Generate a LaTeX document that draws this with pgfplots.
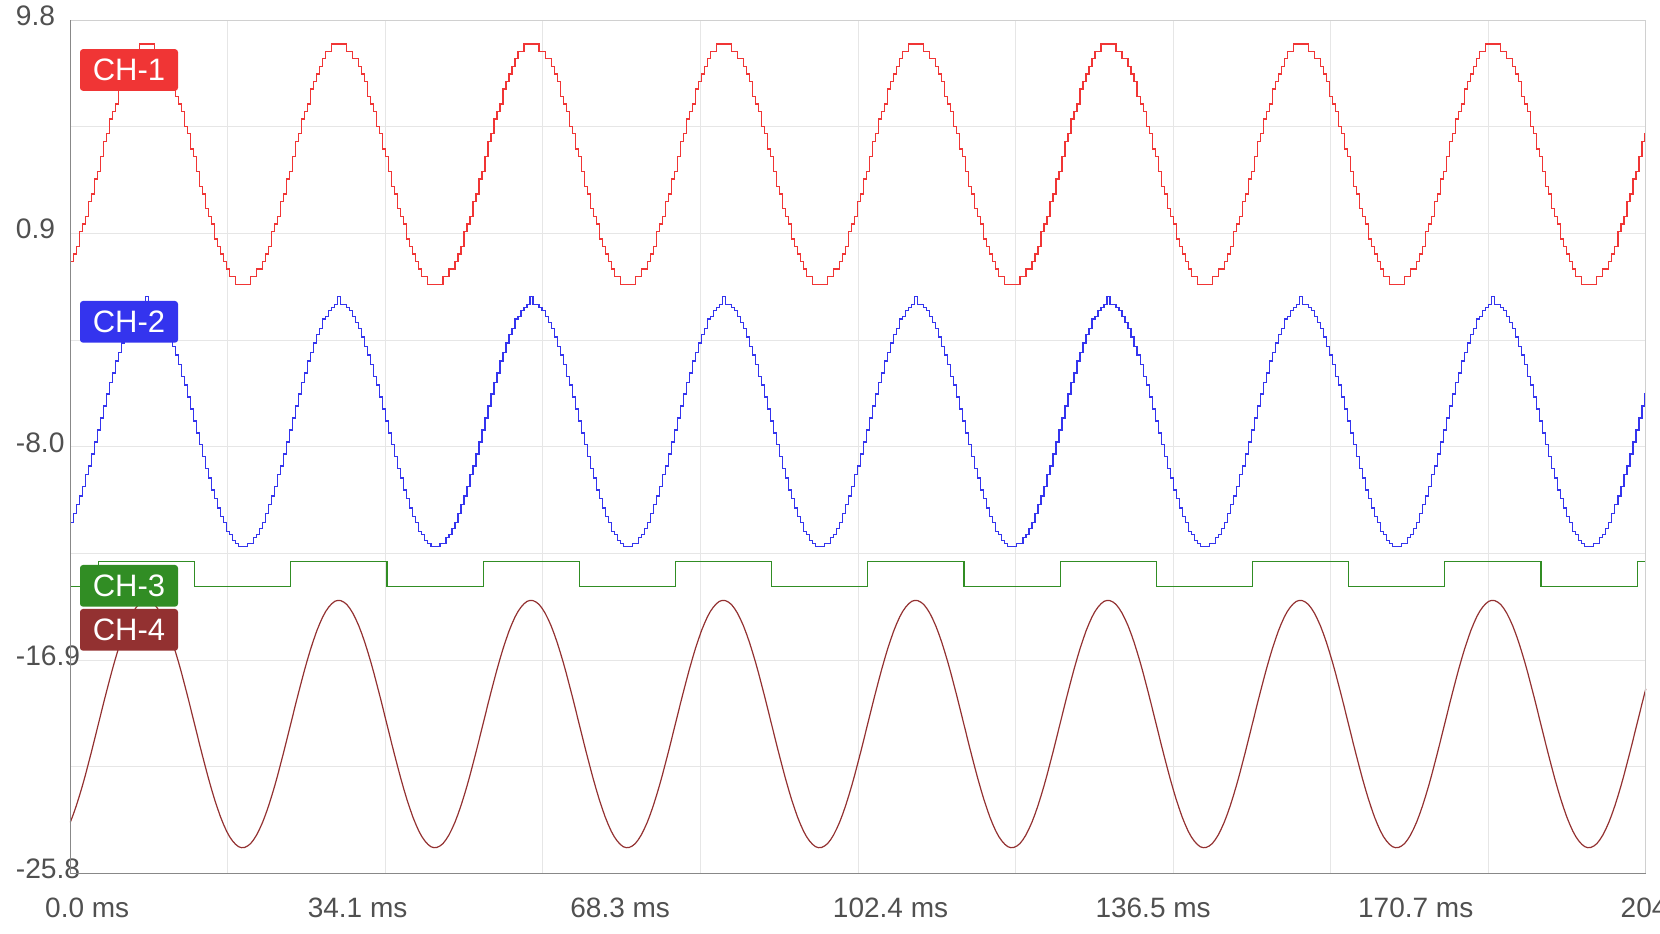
\documentclass[border=0pt]{standalone}
\usepackage{fontspec}
\setmainfont{Liberation Sans}
\usepackage{pgfplots}
\usepackage{pgfplotstable}
\pgfplotsset{compat=1.18}

\definecolor{chone}{HTML}{F03535}
\definecolor{chtwo}{HTML}{3434EE}
\definecolor{chthree}{HTML}{318D24}
\definecolor{chfour}{HTML}{933131}
\definecolor{gridgray}{HTML}{E6E6E6}
\definecolor{axisdark}{HTML}{888888}
\definecolor{axislight}{HTML}{D0D0D0}
\definecolor{labelgray}{HTML}{505050}

% x in ms; r = CH-1, b = CH-2, c = CH-4
\pgfplotstableread{
x r b c
0.000 -0.27 -11.17 -23.67
0.391 0.05 -10.80 -23.34
0.781 0.36 -10.42 -22.98
1.172 0.99 -10.05 -22.58
1.563 1.30 -9.67 -22.16
1.953 1.61 -9.17 -21.71
2.344 2.24 -8.80 -21.23
2.734 2.55 -8.30 -20.75
3.125 3.18 -7.80 -20.25
3.516 3.49 -7.30 -19.74
3.906 4.12 -6.80 -19.24
4.297 4.74 -6.30 -18.73
4.688 5.06 -5.80 -18.24
5.078 5.68 -5.30 -17.76
5.469 5.99 -4.92 -17.29
5.859 6.31 -4.42 -16.85
6.250 6.93 -4.05 -16.43
6.641 7.25 -3.67 -16.05
7.031 7.56 -3.30 -15.69
7.422 7.87 -3.05 -15.38
7.813 8.19 -2.67 -15.10
8.203 8.50 -2.55 -14.87
8.594 8.50 -2.30 -14.69
8.984 8.81 -2.17 -14.55
9.375 8.81 -2.05 -14.45
9.766 8.81 -1.72 -14.41
10.156 8.81 -2.05 -14.42
10.547 8.81 -2.05 -14.48
10.938 8.50 -2.17 -14.58
11.328 8.50 -2.30 -14.74
11.719 8.19 -2.55 -14.94
12.109 8.19 -2.80 -15.19
12.500 7.87 -3.05 -15.47
12.891 7.56 -3.42 -15.80
13.281 7.25 -3.80 -16.16
13.672 6.62 -4.17 -16.56
14.063 6.31 -4.55 -16.98
14.453 5.99 -5.05 -17.43
14.844 5.37 -5.42 -17.91
15.234 5.06 -5.92 -18.39
15.625 4.43 -6.42 -18.89
16.016 4.12 -6.92 -19.40
16.406 3.49 -7.42 -19.90
16.797 2.86 -7.92 -20.41
17.188 2.55 -8.42 -20.90
17.578 1.93 -8.92 -21.38
17.969 1.61 -9.30 -21.85
18.359 1.30 -9.80 -22.29
18.750 0.67 -10.17 -22.71
19.141 0.36 -10.55 -23.09
19.531 0.05 -10.92 -23.45
19.922 -0.27 -11.17 -23.76
20.313 -0.58 -11.55 -24.04
20.703 -0.89 -11.67 -24.27
21.094 -0.89 -11.92 -24.45
21.484 -1.21 -12.05 -24.59
21.875 -1.21 -12.17 -24.69
22.266 -1.21 -12.17 -24.73
22.656 -1.21 -12.17 -24.72
23.047 -1.21 -12.05 -24.66
23.438 -0.89 -12.05 -24.56
23.828 -0.89 -11.80 -24.40
24.219 -0.58 -11.67 -24.20
24.609 -0.58 -11.42 -23.95
25.000 -0.27 -11.17 -23.67
25.391 0.05 -10.80 -23.34
25.781 0.36 -10.42 -22.98
26.172 0.99 -10.05 -22.58
26.563 1.30 -9.67 -22.16
26.953 1.61 -9.17 -21.71
27.344 2.24 -8.80 -21.23
27.734 2.55 -8.30 -20.75
28.125 3.18 -7.80 -20.25
28.516 3.49 -7.30 -19.74
28.906 4.12 -6.80 -19.24
29.297 4.74 -6.30 -18.73
29.688 5.06 -5.80 -18.24
30.078 5.68 -5.30 -17.76
30.469 5.99 -4.92 -17.29
30.859 6.31 -4.42 -16.85
31.250 6.93 -4.05 -16.43
31.641 7.25 -3.67 -16.05
32.031 7.56 -3.30 -15.69
32.422 7.87 -3.05 -15.38
32.813 8.19 -2.67 -15.10
33.203 8.50 -2.55 -14.87
33.594 8.50 -2.30 -14.69
33.984 8.81 -2.17 -14.55
34.375 8.81 -2.05 -14.45
34.766 8.81 -1.72 -14.41
35.156 8.81 -2.05 -14.42
35.547 8.81 -2.05 -14.48
35.938 8.50 -2.17 -14.58
36.328 8.50 -2.30 -14.74
36.719 8.19 -2.55 -14.94
37.109 8.19 -2.80 -15.19
37.500 7.87 -3.05 -15.47
37.891 7.56 -3.42 -15.80
38.281 7.25 -3.80 -16.16
38.672 6.62 -4.17 -16.56
39.063 6.31 -4.55 -16.98
39.453 5.99 -5.05 -17.43
39.844 5.37 -5.42 -17.91
40.234 5.06 -5.92 -18.39
40.625 4.43 -6.42 -18.89
41.016 4.12 -6.92 -19.40
41.406 3.49 -7.42 -19.90
41.797 2.86 -7.92 -20.41
42.188 2.55 -8.42 -20.90
42.578 1.93 -8.92 -21.38
42.969 1.61 -9.30 -21.85
43.359 1.30 -9.80 -22.29
43.750 0.67 -10.17 -22.71
44.141 0.36 -10.55 -23.09
44.531 0.05 -10.92 -23.45
44.922 -0.27 -11.17 -23.76
45.313 -0.58 -11.55 -24.04
45.703 -0.89 -11.67 -24.27
46.094 -0.89 -11.92 -24.45
46.484 -1.21 -12.05 -24.59
46.875 -1.21 -12.17 -24.69
47.266 -1.21 -12.17 -24.73
47.656 -1.21 -12.17 -24.72
48.047 -1.21 -12.05 -24.66
48.438 -0.89 -12.05 -24.56
48.828 -0.89 -11.80 -24.40
49.219 -0.58 -11.67 -24.20
49.609 -0.58 -11.42 -23.95
50.000 -0.27 -11.17 -23.67
50.391 0.05 -10.80 -23.34
50.781 0.36 -10.42 -22.98
51.172 0.99 -10.05 -22.58
51.563 1.30 -9.67 -22.16
51.953 1.61 -9.17 -21.71
52.344 2.24 -8.80 -21.23
52.734 2.55 -8.30 -20.75
53.125 3.18 -7.80 -20.25
53.516 3.49 -7.30 -19.74
53.906 4.12 -6.80 -19.24
54.297 4.74 -6.30 -18.73
54.688 5.06 -5.80 -18.24
55.078 5.68 -5.30 -17.76
55.469 5.99 -4.92 -17.29
55.859 6.31 -4.42 -16.85
56.250 6.93 -4.05 -16.43
56.641 7.25 -3.67 -16.05
57.031 7.56 -3.30 -15.69
57.422 7.87 -3.05 -15.38
57.813 8.19 -2.67 -15.10
58.203 8.50 -2.55 -14.87
58.594 8.50 -2.30 -14.69
58.984 8.81 -2.17 -14.55
59.375 8.81 -2.05 -14.45
59.766 8.81 -1.72 -14.41
60.156 8.81 -2.05 -14.42
60.547 8.81 -2.05 -14.48
60.938 8.50 -2.17 -14.58
61.328 8.50 -2.30 -14.74
61.719 8.19 -2.55 -14.94
62.109 8.19 -2.80 -15.19
62.500 7.87 -3.05 -15.47
62.891 7.56 -3.42 -15.80
63.281 7.25 -3.80 -16.16
63.672 6.62 -4.17 -16.56
64.063 6.31 -4.55 -16.98
64.453 5.99 -5.05 -17.43
64.844 5.37 -5.42 -17.91
65.234 5.06 -5.92 -18.39
65.625 4.43 -6.42 -18.89
66.016 4.12 -6.92 -19.40
66.406 3.49 -7.42 -19.90
66.797 2.86 -7.92 -20.41
67.188 2.55 -8.42 -20.90
67.578 1.93 -8.92 -21.38
67.969 1.61 -9.30 -21.85
68.359 1.30 -9.80 -22.29
68.750 0.67 -10.17 -22.71
69.141 0.36 -10.55 -23.09
69.531 0.05 -10.92 -23.45
69.922 -0.27 -11.17 -23.76
70.313 -0.58 -11.55 -24.04
70.703 -0.89 -11.67 -24.27
71.094 -0.89 -11.92 -24.45
71.484 -1.21 -12.05 -24.59
71.875 -1.21 -12.17 -24.69
72.266 -1.21 -12.17 -24.73
72.656 -1.21 -12.17 -24.72
73.047 -1.21 -12.05 -24.66
73.438 -0.89 -12.05 -24.56
73.828 -0.89 -11.80 -24.40
74.219 -0.58 -11.67 -24.20
74.609 -0.58 -11.42 -23.95
75.000 -0.27 -11.17 -23.67
75.391 0.05 -10.80 -23.34
75.781 0.36 -10.42 -22.98
76.172 0.99 -10.05 -22.58
76.563 1.30 -9.67 -22.16
76.953 1.61 -9.17 -21.71
77.344 2.24 -8.80 -21.23
77.734 2.55 -8.30 -20.75
78.125 3.18 -7.80 -20.25
78.516 3.49 -7.30 -19.74
78.906 4.12 -6.80 -19.24
79.297 4.74 -6.30 -18.73
79.688 5.06 -5.80 -18.24
80.078 5.68 -5.30 -17.76
80.469 5.99 -4.92 -17.29
80.859 6.31 -4.42 -16.85
81.250 6.93 -4.05 -16.43
81.641 7.25 -3.67 -16.05
82.031 7.56 -3.30 -15.69
82.422 7.87 -3.05 -15.38
82.813 8.19 -2.67 -15.10
83.203 8.50 -2.55 -14.87
83.594 8.50 -2.30 -14.69
83.984 8.81 -2.17 -14.55
84.375 8.81 -2.05 -14.45
84.766 8.81 -1.72 -14.41
85.156 8.81 -2.05 -14.42
85.547 8.81 -2.05 -14.48
85.938 8.50 -2.17 -14.58
86.328 8.50 -2.30 -14.74
86.719 8.19 -2.55 -14.94
87.109 8.19 -2.80 -15.19
87.500 7.87 -3.05 -15.47
87.891 7.56 -3.42 -15.80
88.281 7.25 -3.80 -16.16
88.672 6.62 -4.17 -16.56
89.063 6.31 -4.55 -16.98
89.453 5.99 -5.05 -17.43
89.844 5.37 -5.42 -17.91
90.234 5.06 -5.92 -18.39
90.625 4.43 -6.42 -18.89
91.016 4.12 -6.92 -19.40
91.406 3.49 -7.42 -19.90
91.797 2.86 -7.92 -20.41
92.188 2.55 -8.42 -20.90
92.578 1.93 -8.92 -21.38
92.969 1.61 -9.30 -21.85
93.359 1.30 -9.80 -22.29
93.750 0.67 -10.17 -22.71
94.141 0.36 -10.55 -23.09
94.531 0.05 -10.92 -23.45
94.922 -0.27 -11.17 -23.76
95.313 -0.58 -11.55 -24.04
95.703 -0.89 -11.67 -24.27
96.094 -0.89 -11.92 -24.45
96.484 -1.21 -12.05 -24.59
96.875 -1.21 -12.17 -24.69
97.266 -1.21 -12.17 -24.73
97.656 -1.21 -12.17 -24.72
98.047 -1.21 -12.05 -24.66
98.438 -0.89 -12.05 -24.56
98.828 -0.89 -11.80 -24.40
99.219 -0.58 -11.67 -24.20
99.609 -0.58 -11.42 -23.95
100.000 -0.27 -11.17 -23.67
100.391 0.05 -10.80 -23.34
100.781 0.36 -10.42 -22.98
101.172 0.99 -10.05 -22.58
101.563 1.30 -9.67 -22.16
101.953 1.61 -9.17 -21.71
102.344 2.24 -8.80 -21.23
102.734 2.55 -8.30 -20.75
103.125 3.18 -7.80 -20.25
103.516 3.49 -7.30 -19.74
103.906 4.12 -6.80 -19.24
104.297 4.74 -6.30 -18.73
104.688 5.06 -5.80 -18.24
105.078 5.68 -5.30 -17.76
105.469 5.99 -4.92 -17.29
105.859 6.31 -4.42 -16.85
106.250 6.93 -4.05 -16.43
106.641 7.25 -3.67 -16.05
107.031 7.56 -3.30 -15.69
107.422 7.87 -3.05 -15.38
107.813 8.19 -2.67 -15.10
108.203 8.50 -2.55 -14.87
108.594 8.50 -2.30 -14.69
108.984 8.81 -2.17 -14.55
109.375 8.81 -2.05 -14.45
109.766 8.81 -1.72 -14.41
110.156 8.81 -2.05 -14.42
110.547 8.81 -2.05 -14.48
110.938 8.50 -2.17 -14.58
111.328 8.50 -2.30 -14.74
111.719 8.19 -2.55 -14.94
112.109 8.19 -2.80 -15.19
112.500 7.87 -3.05 -15.47
112.891 7.56 -3.42 -15.80
113.281 7.25 -3.80 -16.16
113.672 6.62 -4.17 -16.56
114.063 6.31 -4.55 -16.98
114.453 5.99 -5.05 -17.43
114.844 5.37 -5.42 -17.91
115.234 5.06 -5.92 -18.39
115.625 4.43 -6.42 -18.89
116.016 4.12 -6.92 -19.40
116.406 3.49 -7.42 -19.90
116.797 2.86 -7.92 -20.41
117.188 2.55 -8.42 -20.90
117.578 1.93 -8.92 -21.38
117.969 1.61 -9.30 -21.85
118.359 1.30 -9.80 -22.29
118.750 0.67 -10.17 -22.71
119.141 0.36 -10.55 -23.09
119.531 0.05 -10.92 -23.45
119.922 -0.27 -11.17 -23.76
120.313 -0.58 -11.55 -24.04
120.703 -0.89 -11.67 -24.27
121.094 -0.89 -11.92 -24.45
121.484 -1.21 -12.05 -24.59
121.875 -1.21 -12.17 -24.69
122.266 -1.21 -12.17 -24.73
122.656 -1.21 -12.17 -24.72
123.047 -1.21 -12.05 -24.66
123.438 -0.89 -12.05 -24.56
123.828 -0.89 -11.80 -24.40
124.219 -0.58 -11.67 -24.20
124.609 -0.58 -11.42 -23.95
125.000 -0.27 -11.17 -23.67
125.391 0.05 -10.80 -23.34
125.781 0.36 -10.42 -22.98
126.172 0.99 -10.05 -22.58
126.563 1.30 -9.67 -22.16
126.953 1.61 -9.17 -21.71
127.344 2.24 -8.80 -21.23
127.734 2.55 -8.30 -20.75
128.125 3.18 -7.80 -20.25
128.516 3.49 -7.30 -19.74
128.906 4.12 -6.80 -19.24
129.297 4.74 -6.30 -18.73
129.688 5.06 -5.80 -18.24
130.078 5.68 -5.30 -17.76
130.469 5.99 -4.92 -17.29
130.859 6.31 -4.42 -16.85
131.250 6.93 -4.05 -16.43
131.641 7.25 -3.67 -16.05
132.031 7.56 -3.30 -15.69
132.422 7.87 -3.05 -15.38
132.813 8.19 -2.67 -15.10
133.203 8.50 -2.55 -14.87
133.594 8.50 -2.30 -14.69
133.984 8.81 -2.17 -14.55
134.375 8.81 -2.05 -14.45
134.766 8.81 -1.72 -14.41
135.156 8.81 -2.05 -14.42
135.547 8.81 -2.05 -14.48
135.938 8.50 -2.17 -14.58
136.328 8.50 -2.30 -14.74
136.719 8.19 -2.55 -14.94
137.109 8.19 -2.80 -15.19
137.500 7.87 -3.05 -15.47
137.891 7.56 -3.42 -15.80
138.281 7.25 -3.80 -16.16
138.672 6.62 -4.17 -16.56
139.063 6.31 -4.55 -16.98
139.453 5.99 -5.05 -17.43
139.844 5.37 -5.42 -17.91
140.234 5.06 -5.92 -18.39
140.625 4.43 -6.42 -18.89
141.016 4.12 -6.92 -19.40
141.406 3.49 -7.42 -19.90
141.797 2.86 -7.92 -20.41
142.188 2.55 -8.42 -20.90
142.578 1.93 -8.92 -21.38
142.969 1.61 -9.30 -21.85
143.359 1.30 -9.80 -22.29
143.750 0.67 -10.17 -22.71
144.141 0.36 -10.55 -23.09
144.531 0.05 -10.92 -23.45
144.922 -0.27 -11.17 -23.76
145.313 -0.58 -11.55 -24.04
145.703 -0.89 -11.67 -24.27
146.094 -0.89 -11.92 -24.45
146.484 -1.21 -12.05 -24.59
146.875 -1.21 -12.17 -24.69
147.266 -1.21 -12.17 -24.73
147.656 -1.21 -12.17 -24.72
148.047 -1.21 -12.05 -24.66
148.438 -0.89 -12.05 -24.56
148.828 -0.89 -11.80 -24.40
149.219 -0.58 -11.67 -24.20
149.609 -0.58 -11.42 -23.95
150.000 -0.27 -11.17 -23.67
150.391 0.05 -10.80 -23.34
150.781 0.36 -10.42 -22.98
151.172 0.99 -10.05 -22.58
151.563 1.30 -9.67 -22.16
151.953 1.61 -9.17 -21.71
152.344 2.24 -8.80 -21.23
152.734 2.55 -8.30 -20.75
153.125 3.18 -7.80 -20.25
153.516 3.49 -7.30 -19.74
153.906 4.12 -6.80 -19.24
154.297 4.74 -6.30 -18.73
154.688 5.06 -5.80 -18.24
155.078 5.68 -5.30 -17.76
155.469 5.99 -4.92 -17.29
155.859 6.31 -4.42 -16.85
156.250 6.93 -4.05 -16.43
156.641 7.25 -3.67 -16.05
157.031 7.56 -3.30 -15.69
157.422 7.87 -3.05 -15.38
157.813 8.19 -2.67 -15.10
158.203 8.50 -2.55 -14.87
158.594 8.50 -2.30 -14.69
158.984 8.81 -2.17 -14.55
159.375 8.81 -2.05 -14.45
159.766 8.81 -1.72 -14.41
160.156 8.81 -2.05 -14.42
160.547 8.81 -2.05 -14.48
160.938 8.50 -2.17 -14.58
161.328 8.50 -2.30 -14.74
161.719 8.19 -2.55 -14.94
162.109 8.19 -2.80 -15.19
162.500 7.87 -3.05 -15.47
162.891 7.56 -3.42 -15.80
163.281 7.25 -3.80 -16.16
163.672 6.62 -4.17 -16.56
164.063 6.31 -4.55 -16.98
164.453 5.99 -5.05 -17.43
164.844 5.37 -5.42 -17.91
165.234 5.06 -5.92 -18.39
165.625 4.43 -6.42 -18.89
166.016 4.12 -6.92 -19.40
166.406 3.49 -7.42 -19.90
166.797 2.86 -7.92 -20.41
167.188 2.55 -8.42 -20.90
167.578 1.93 -8.92 -21.38
167.969 1.61 -9.30 -21.85
168.359 1.30 -9.80 -22.29
168.750 0.67 -10.17 -22.71
169.141 0.36 -10.55 -23.09
169.531 0.05 -10.92 -23.45
169.922 -0.27 -11.17 -23.76
170.313 -0.58 -11.55 -24.04
170.703 -0.89 -11.67 -24.27
171.094 -0.89 -11.92 -24.45
171.484 -1.21 -12.05 -24.59
171.875 -1.21 -12.17 -24.69
172.266 -1.21 -12.17 -24.73
172.656 -1.21 -12.17 -24.72
173.047 -1.21 -12.05 -24.66
173.438 -0.89 -12.05 -24.56
173.828 -0.89 -11.80 -24.40
174.219 -0.58 -11.67 -24.20
174.609 -0.58 -11.42 -23.95
175.000 -0.27 -11.17 -23.67
175.391 0.05 -10.80 -23.34
175.781 0.36 -10.42 -22.98
176.172 0.99 -10.05 -22.58
176.563 1.30 -9.67 -22.16
176.953 1.61 -9.17 -21.71
177.344 2.24 -8.80 -21.23
177.734 2.55 -8.30 -20.75
178.125 3.18 -7.80 -20.25
178.516 3.49 -7.30 -19.74
178.906 4.12 -6.80 -19.24
179.297 4.74 -6.30 -18.73
179.688 5.06 -5.80 -18.24
180.078 5.68 -5.30 -17.76
180.469 5.99 -4.92 -17.29
180.859 6.31 -4.42 -16.85
181.250 6.93 -4.05 -16.43
181.641 7.25 -3.67 -16.05
182.031 7.56 -3.30 -15.69
182.422 7.87 -3.05 -15.38
182.813 8.19 -2.67 -15.10
183.203 8.50 -2.55 -14.87
183.594 8.50 -2.30 -14.69
183.984 8.81 -2.17 -14.55
184.375 8.81 -2.05 -14.45
184.766 8.81 -1.72 -14.41
185.156 8.81 -2.05 -14.42
185.547 8.81 -2.05 -14.48
185.938 8.50 -2.17 -14.58
186.328 8.50 -2.30 -14.74
186.719 8.19 -2.55 -14.94
187.109 8.19 -2.80 -15.19
187.500 7.87 -3.05 -15.47
187.891 7.56 -3.42 -15.80
188.281 7.25 -3.80 -16.16
188.672 6.62 -4.17 -16.56
189.063 6.31 -4.55 -16.98
189.453 5.99 -5.05 -17.43
189.844 5.37 -5.42 -17.91
190.234 5.06 -5.92 -18.39
190.625 4.43 -6.42 -18.89
191.016 4.12 -6.92 -19.40
191.406 3.49 -7.42 -19.90
191.797 2.86 -7.92 -20.41
192.188 2.55 -8.42 -20.90
192.578 1.93 -8.92 -21.38
192.969 1.61 -9.30 -21.85
193.359 1.30 -9.80 -22.29
193.750 0.67 -10.17 -22.71
194.141 0.36 -10.55 -23.09
194.531 0.05 -10.92 -23.45
194.922 -0.27 -11.17 -23.76
195.313 -0.58 -11.55 -24.04
195.703 -0.89 -11.67 -24.27
196.094 -0.89 -11.92 -24.45
196.484 -1.21 -12.05 -24.59
196.875 -1.21 -12.17 -24.69
197.266 -1.21 -12.17 -24.73
197.656 -1.21 -12.17 -24.72
198.047 -1.21 -12.05 -24.66
198.438 -0.89 -12.05 -24.56
198.828 -0.89 -11.80 -24.40
199.219 -0.58 -11.67 -24.20
199.609 -0.58 -11.42 -23.95
200.000 -0.27 -11.17 -23.67
200.391 0.05 -10.80 -23.34
200.781 0.36 -10.42 -22.98
201.172 0.99 -10.05 -22.58
201.563 1.30 -9.67 -22.16
201.953 1.61 -9.17 -21.71
202.344 2.24 -8.80 -21.23
202.734 2.55 -8.30 -20.75
203.125 3.18 -7.80 -20.25
203.516 3.49 -7.30 -19.74
203.906 4.12 -6.80 -19.24
204.297 4.74 -6.30 -18.73
204.688 5.06 -5.80 -18.24
204.800 5.06 -5.80 -18.10
}\wave

\begin{document}
\begin{tikzpicture}
% page = 1660 x 933 px at 0.5pt per px, axis box at the origin
\useasboundingbox (-35.15pt,-29.85pt) rectangle (794.85pt,436.65pt);
\begin{axis}[
  at={(0pt,0pt)}, anchor=south west,
  scale only axis, width=787.75pt, height=426.5pt,
  xmin=0, xmax=204.8, ymin=-25.8, ymax=9.8,
  clip=false,
  axis line style={draw=none},
  xtick={0,34.1333,68.2667,102.4,136.5333,170.6667,204.8},
  xticklabels={0.0 ms,34.1 ms,68.3 ms,102.4 ms,136.5 ms,170.7 ms,204.8 ms},
  minor xtick={20.48,40.96,61.44,81.92,102.4,122.88,143.36,163.84,184.32},
  ytick={-25.8,-16.9,-8.0,0.9,9.8},
  yticklabels={-25.8,-16.9,-8.0,0.9,9.8},
  minor ytick={-21.35,-12.45,-3.55,5.35},
  xmajorgrids=false, xminorgrids=true,
  ymajorgrids=true, yminorgrids=true,
  grid style={draw=gridgray, line width=0.5pt},
  minor grid style={draw=gridgray, line width=0.5pt},
  major grid style={draw=gridgray, line width=0.5pt},
  major tick length=0pt, minor tick length=0pt,
  xticklabel style={anchor=west, inner sep=0pt, xshift=-12.75pt, yshift=-17.5pt,
    text=labelgray, font=\fontsize{14}{16}\selectfont},
  yticklabel style={anchor=west, inner sep=0pt, xshift=-27.4pt, yshift=2.2pt,
    text=labelgray, font=\fontsize{14.1}{16}\selectfont},
]
\addplot[const plot, draw=chone, line width=0.6pt] table[x=x, y=r] {\wave};
\addplot[const plot, draw=chtwo, line width=0.6pt] table[x=x, y=b] {\wave};
\addplot[const plot, draw=chthree, line width=0.6pt] coordinates {
  (0,-13.82) (3.67,-12.78) (16.17,-13.82) (28.67,-12.78) (41.17,-13.82)
  (53.67,-12.78) (66.17,-13.82) (78.67,-12.78) (91.17,-13.82) (103.67,-12.78)
  (116.17,-13.82) (128.67,-12.78) (141.17,-13.82) (153.67,-12.78) (166.17,-13.82)
  (178.67,-12.78) (191.17,-13.82) (203.67,-12.78) (204.8,-12.78)
};
\addplot[draw=chfour, line width=0.6pt] table[x=x, y=c] {\wave};
% frame: dark left/bottom, light top/right
\draw[axislight, line width=0.6pt] (rel axis cs:0,1) -- (rel axis cs:1,1) -- (rel axis cs:1,0);
\draw[axisdark, line width=0.7pt] (rel axis cs:0,1) -- (rel axis cs:0,0) -- (rel axis cs:1,0);
\end{axis}
% channel tags
\tikzset{tag/.style={rounded corners=1.5pt, minimum width=49pt, minimum height=20.85pt,
  inner sep=0pt, text=white, font=\fontsize{15.5}{18}\selectfont}}
\node[tag, fill=chone] at (29.35pt,401.65pt) {CH-1};
\node[tag, fill=chtwo] at (29.35pt,275.73pt) {CH-2};
\node[tag, fill=chthree] at (29.35pt,143.73pt) {CH-3};
\node[tag, fill=chfour] at (29.35pt,121.73pt) {CH-4};
\end{tikzpicture}
\end{document}
